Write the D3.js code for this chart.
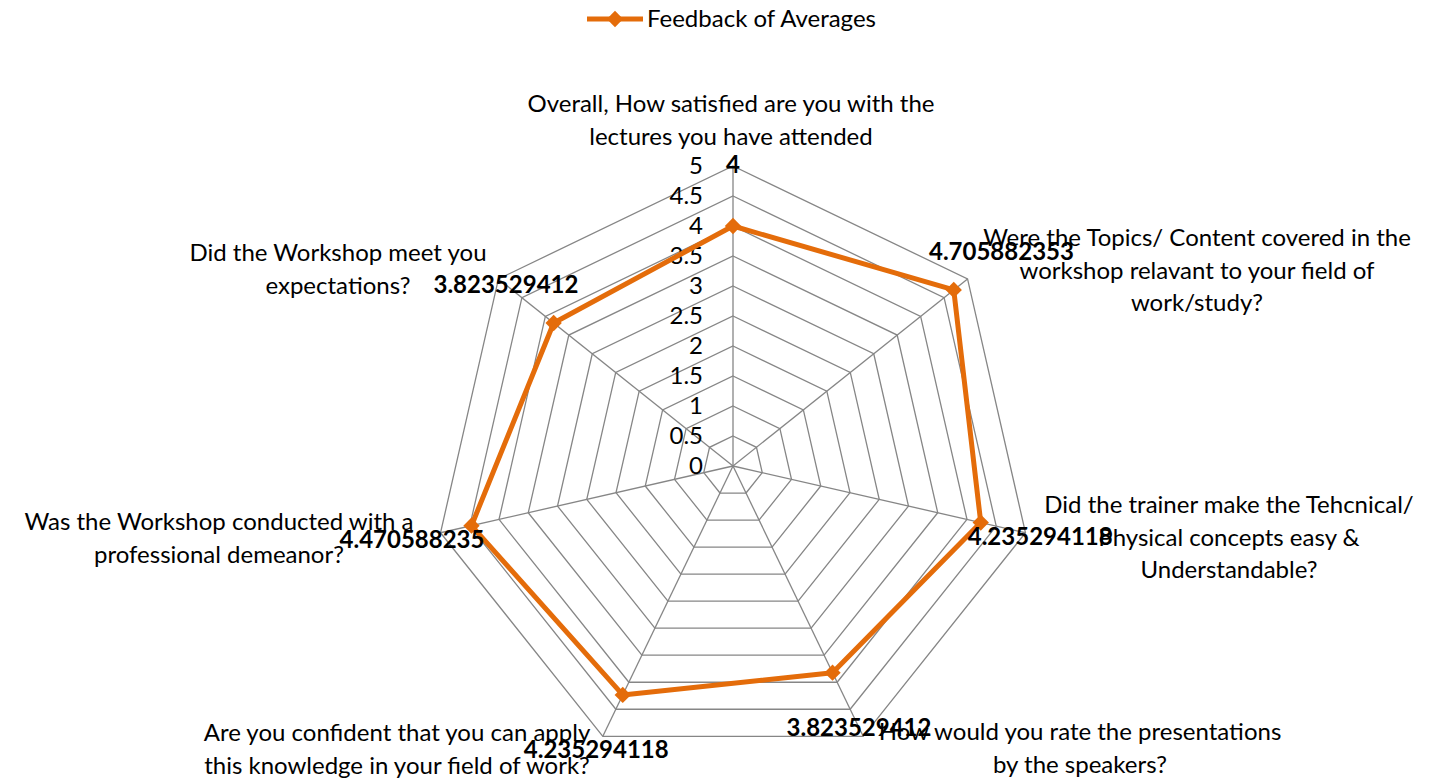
<!DOCTYPE html>
<html>
<head>
<meta charset="utf-8">
<script src="https://cdn.jsdelivr.net/npm/d3@7"></script>
<style>
  html, body { margin: 0; padding: 0; background: #fff; }
  svg { display: block; }
  text { font-family: Lato, "Noto Sans", sans-serif; fill: #000; }
</style>
</head>
<body>
<svg id="chart" width="1441" height="779"></svg>
<script>
// Survey questions (axis labels, split into display lines)
const categories = [
  ["Overall, How satisfied are you with the", "lectures you have attended"],
  ["Were the Topics/ Content covered in the", "workshop relavant to your field of", "work/study?"],
  ["Did the trainer make the Tehcnical/", "Physical concepts easy &", "Understandable?"],
  ["How would you rate the presentations", "by the speakers?"],
  ["Are you confident that you can apply", "this knowledge in your field of work?"],
  ["Was the Workshop conducted with a", "professional demeanor?"],
  ["Did the Workshop meet you", "expectations?"]
];
const seriesName = "Feedback of Averages";
const averages = [4, 4.705882353, 4.235294118, 3.823529412, 4.235294118, 4.470588235, 3.823529412];
const valueLabels = ["4", "4.705882353", "4.235294118", "3.823529412", "4.235294118", "4.470588235", "3.823529412"];
const ticks = [0, 0.5, 1, 1.5, 2, 2.5, 3, 3.5, 4, 4.5, 5];
const tickLabels = ["0", "0.5", "1", "1.5", "2", "2.5", "3", "3.5", "4", "4.5", "5"];

const svg = d3.select("#chart");
const cx = 733, cy = 466, R = 300;
const orange = "#E46C0A";
const gridColor = "#868686";
const fontSize = 24;

const r = d3.scaleLinear().domain([0, 5]).range([0, R]);
const angle = d3.scaleLinear().domain([0, categories.length]).range([0, 2 * Math.PI]);
const px = (i, v) => cx + r(v) * Math.sin(angle(i));
const py = (i, v) => cy - r(v) * Math.cos(angle(i));

const g = svg.append("g");

// concentric heptagon rings
ticks.slice(1).forEach(t => {
  const pts = categories.map((_, i) => [px(i, t), py(i, t)]);
  g.append("path")
    .attr("d", d3.line()(pts) + "Z")
    .attr("fill", "none")
    .attr("stroke", gridColor)
    .attr("stroke-width", 1.3);
});

// spokes
categories.forEach((_, i) => {
  g.append("line")
    .attr("x1", cx).attr("y1", cy)
    .attr("x2", px(i, 5)).attr("y2", py(i, 5))
    .attr("stroke", gridColor)
    .attr("stroke-width", 1.3);
});

// value axis tick labels along the first spoke
g.selectAll(".tick").data(ticks).enter().append("text")
  .attr("x", cx - 30)
  .attr("y", d => cy - r(d))
  .attr("dy", "0.35em")
  .attr("text-anchor", "end")
  .attr("font-size", fontSize)
  .text((d, i) => tickLabels[i]);

// category labels
const catPos = [
  {x: 731, y: 104},
  {x: 1197, y: 238},
  {x: 1229, y: 505},
  {x: 1080, y: 732},
  {x: 397, y: 733},
  {x: 219, y: 522},
  {x: 338, y: 253}
];
categories.forEach((lines, i) => {
  const t = g.append("text")
    .attr("text-anchor", "middle")
    .attr("font-size", fontSize);
  lines.forEach((s, k) => {
    t.append("tspan")
      .attr("x", catPos[i].x)
      .attr("y", catPos[i].y + k * 32.5)
      .attr("dy", "0.35em")
      .text(s);
  });
});

// series line
const pts = averages.map((v, i) => [px(i, v), py(i, v)]);
g.append("path")
  .attr("d", d3.line()(pts) + "Z")
  .attr("fill", "none")
  .attr("stroke", orange)
  .attr("stroke-width", 5)
  .attr("stroke-linejoin", "round");

// diamond markers
const diamond = d3.symbol().type(d3.symbolDiamond2).size(170);
g.selectAll(".marker").data(averages).enter().append("path")
  .attr("d", diamond)
  .attr("transform", (d, i) => `translate(${px(i, d)},${py(i, d)})`)
  .attr("fill", orange);

// data labels, pushed out along each spoke
const labelOffset = 61;
g.selectAll(".vlabel").data(averages).enter().append("text")
  .attr("x", (d, i) => cx + (r(d) + labelOffset) * Math.sin(angle(i)))
  .attr("y", (d, i) => cy - (r(d) + labelOffset) * Math.cos(angle(i)))
  .attr("dy", "0.35em")
  .attr("text-anchor", "middle")
  .attr("font-size", fontSize)
  .attr("font-weight", "bold")
  .text((d, i) => valueLabels[i]);

// legend
const lg = svg.append("g");
lg.append("line")
  .attr("x1", 587).attr("x2", 643).attr("y1", 19).attr("y2", 19)
  .attr("stroke", orange).attr("stroke-width", 5);
lg.append("path")
  .attr("d", diamond)
  .attr("transform", "translate(615,19)")
  .attr("fill", orange);
lg.append("text")
  .attr("x", 647).attr("y", 19).attr("dy", "0.35em")
  .attr("font-size", fontSize)
  .text(seriesName);
</script>
</body>
</html>
